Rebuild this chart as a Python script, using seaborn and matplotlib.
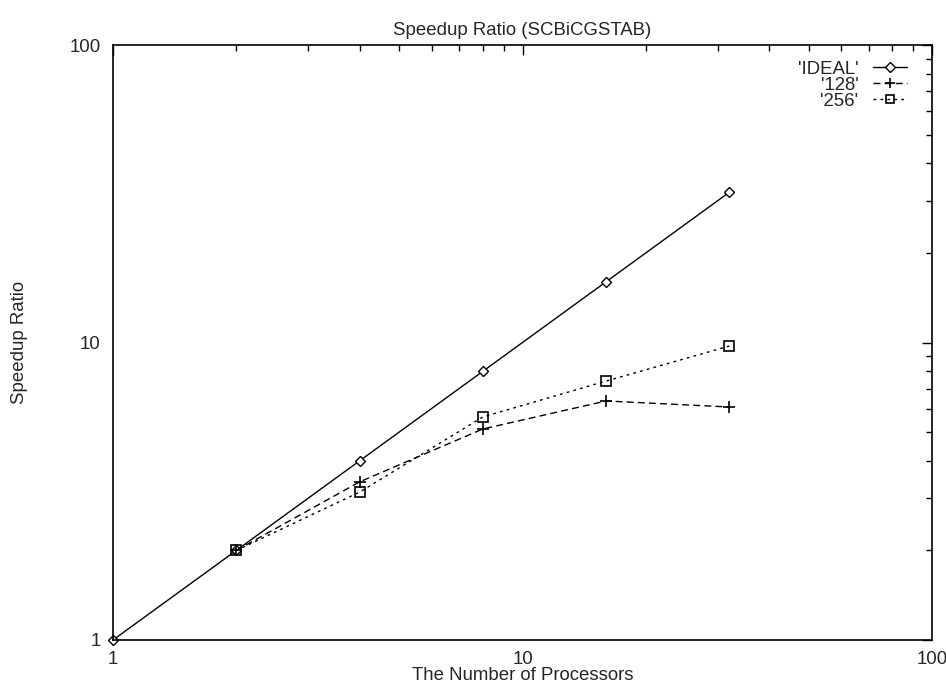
import matplotlib
matplotlib.use("Agg")
import matplotlib.pyplot as plt
import seaborn as sns
import pandas as pd
from matplotlib.ticker import LogLocator, FixedLocator, NullFormatter

procs = [1, 2, 4, 8, 16, 32]
ideal = [1, 2, 4, 8, 16, 32]
procs_128 = [2, 4, 8, 16, 32]
sp_128 = [2.0, 3.40, 5.12, 6.36, 6.07]
procs_256 = [2, 4, 8, 16, 32]
sp_256 = [2.0, 3.14, 5.62, 7.42, 9.73]

sns.set_theme(style="white")
plt.rcParams['font.family'] = ['Liberation Sans', 'DejaVu Sans']

FS = 13.4
fig = plt.figure(figsize=(9.46, 6.86), dpi=100)
ax = fig.add_axes([113/946, 1-640/686, (932-113)/946, (640-45)/686])

df_i = pd.DataFrame({"x": procs, "y": ideal})
df_1 = pd.DataFrame({"x": procs_128, "y": sp_128})
df_2 = pd.DataFrame({"x": procs_256, "y": sp_256})

sns.lineplot(data=df_i, x="x", y="y", ax=ax, color="black", lw=1.0, marker="D",
             markersize=5.5, markerfacecolor="white", markeredgecolor="black",
             markeredgewidth=1.0, label="'IDEAL'", clip_on=False)
sns.lineplot(data=df_1, x="x", y="y", ax=ax, color="black", lw=1.0, marker="+",
             markersize=9, markeredgecolor="black", markeredgewidth=1.2,
             linestyle=(0, (5, 3)), label="'128'")
sns.lineplot(data=df_2, x="x", y="y", ax=ax, color="black", lw=1.0, marker="s",
             markersize=7.5, markerfacecolor="none", markeredgecolor="black",
             markeredgewidth=1.2, linestyle=(0, (2, 3)), label="'256'")

ax.set_xscale("log")
ax.set_yscale("log")
ax.set_xlim(1, 100)
ax.set_ylim(1, 100)
ax.xaxis.set_major_locator(FixedLocator([1, 10, 100]))
ax.yaxis.set_major_locator(FixedLocator([1, 10, 100]))
ax.set_xticklabels(["1", "10", "100"])
ax.set_yticklabels(["1", "10", "100"])
ax.xaxis.set_minor_locator(LogLocator(base=10, subs=range(2, 10)))
ax.yaxis.set_minor_locator(LogLocator(base=10, subs=range(2, 10)))
ax.xaxis.set_minor_formatter(NullFormatter())
ax.yaxis.set_minor_formatter(NullFormatter())
ax.tick_params(which="both", direction="in", top=True, right=True, color="black",
               labelsize=FS, pad=9)
ax.tick_params(axis="x", which="both", pad=8)
ax.tick_params(which="major", length=7, width=1)
ax.tick_params(which="minor", length=4, width=1)
for s in ax.spines.values():
    s.set_color("black")
    s.set_linewidth(1.2)

ax.set_title("Speedup Ratio (SCBiCGSTAB)", fontsize=FS, pad=7)
ax.set_xlabel("The Number of Processors", fontsize=FS, labelpad=-1)
ax.set_ylabel("Speedup Ratio", fontsize=FS, labelpad=30)

leg = ax.legend(loc="upper right", frameon=False, fontsize=FS, markerfirst=False,
                handlelength=1.8, borderaxespad=0.6, labelspacing=-0.05,
                handletextpad=0.8, bbox_to_anchor=(0.992, 1.005),
                markerscale=0.85)
for t in leg.get_texts():
    t.set_ha("right")

fig.savefig("out.png", dpi=100, facecolor="white")
